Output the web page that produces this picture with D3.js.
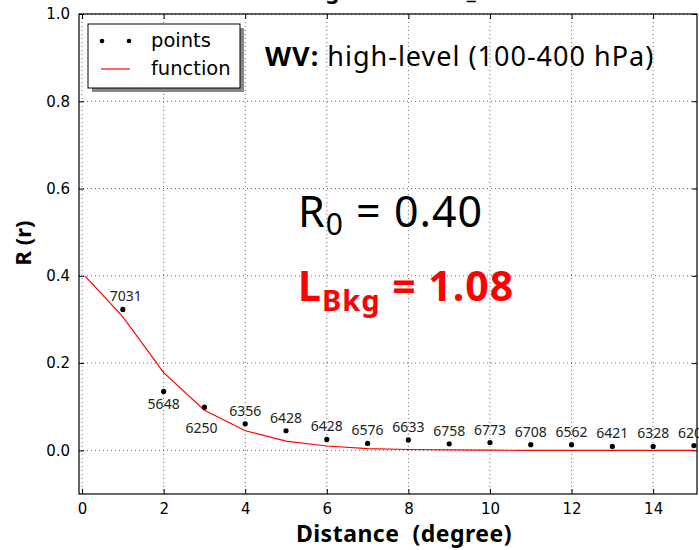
<!DOCTYPE html>
<html>
<head>
<meta charset="utf-8">
<script src="https://cdn.jsdelivr.net/npm/d3@7"></script>
<style>
    body { margin: 0; background: #fff; }
    svg { display: block; }
    text { white-space: pre; }
</style>
</head>
<body>
<div id="chart"></div>
<script>
// observed points (distance in degree, correlation) and sample counts
const distance = [1, 2, 3, 4, 5, 6, 7, 8, 9, 10, 11, 12, 13, 14, 15];
const corr = [0.323, 0.135, 0.099, 0.061, 0.045, 0.025, 0.016, 0.024, 0.015, 0.018, 0.013, 0.013, 0.009, 0.009, 0.011];
const counts = ["7031", "5648", "6250", "6356", "6428", "6428", "6576", "6633", "6758", "6773", "6708", "6562", "6421", "6328", "6205"];

// fitted function
const fitX = [0.07, 1, 2, 3, 4, 5, 6, 7, 8, 9, 10, 11, 12, 13, 14, 15];
const fitY = [0.400, 0.306, 0.178, 0.092, 0.045, 0.021, 0.010, 0.004, 0.002, 0.001, 0.0004, 0.0002, 0.0001, 0, 0, 0];

const xTicks = [0, 2, 4, 6, 8, 10, 12, 14];
const yTicks = [0.0, 0.2, 0.4, 0.6, 0.8, 1.0];

const W = 699, H = 550;
const margin = { top: 14, right: 2, bottom: 56, left: 79 };
const iw = W - margin.left - margin.right;
const ih = H - margin.top - margin.bottom;

const svg = d3.select("#chart").append("svg")
    .attr("width", W)
    .attr("height", H);

const x = d3.scaleLinear().domain([-0.075, 15.075]).range([0, iw]);
const y = d3.scaleLinear().domain([-0.1, 1.0]).range([ih, 0]);

const g = svg.append("g").attr("transform", `translate(${margin.left},${margin.top})`);

svg.append("defs").append("clipPath").attr("id", "clip")
    .append("rect").attr("width", iw).attr("height", ih);

// dotted grid
g.append("g").selectAll("line").data(xTicks).join("line")
    .attr("x1", d => x(d)).attr("x2", d => x(d))
    .attr("y1", 0).attr("y2", ih)
    .attr("stroke", "#000").attr("stroke-width", 0.6).attr("stroke-dasharray", "1,3");
g.append("g").selectAll("line").data(yTicks).join("line")
    .attr("x1", 0).attr("x2", iw)
    .attr("y1", d => y(d)).attr("y2", d => y(d))
    .attr("stroke", "#000").attr("stroke-width", 0.6).attr("stroke-dasharray", "1,3");

// axes (ticks inside, on all four sides like matplotlib classic)
const tickFont = "'DejaVu Sans', sans-serif";
const xAxis = g.append("g").attr("transform", `translate(0,${ih})`)
    .call(d3.axisBottom(x).tickValues(xTicks).tickSizeInner(-5).tickSizeOuter(0).tickPadding(9).tickFormat(d3.format("d")));
const xAxisTop = g.append("g")
    .call(d3.axisTop(x).tickValues(xTicks).tickSizeInner(-5).tickSizeOuter(0).tickFormat(""));
const yAxis = g.append("g")
    .call(d3.axisLeft(y).tickValues(yTicks).tickSizeInner(-5).tickSizeOuter(0).tickPadding(9).tickFormat(d3.format(".1f")));
const yAxisRight = g.append("g").attr("transform", `translate(${iw},0)`)
    .call(d3.axisRight(y).tickValues(yTicks).tickSizeInner(-5).tickSizeOuter(0).tickFormat(""));
[xAxis, xAxisTop, yAxis, yAxisRight].forEach(a => {
    a.select(".domain").remove();
    a.selectAll("line").attr("stroke", "#000");
    a.selectAll("text").attr("font-family", tickFont).attr("font-size", 15).attr("fill", "#000");
});
g.append("rect").attr("width", iw).attr("height", ih)
    .attr("fill", "none").attr("stroke", "#000").attr("stroke-width", 1.2);

// fitted function
const line = d3.line().x((d, i) => x(fitX[i])).y(d => y(d));
g.append("path").datum(fitY)
    .attr("clip-path", "url(#clip)")
    .attr("d", line)
    .attr("fill", "none").attr("stroke", "red").attr("stroke-width", 1.2);

// points
g.append("g").selectAll("circle").data(corr).join("circle")
    .attr("cx", (d, i) => x(distance[i]))
    .attr("cy", d => y(d))
    .attr("r", 2.6)
    .attr("fill", "#000");

// count labels, most above the point, two below
const annFont = "'Noto Sans', 'Open Sans', sans-serif";
g.append("g").selectAll("text").data(counts).join("text")
    .attr("x", (d, i) => x(distance[i]) + (i === 0 ? 3 : i === 2 ? -3 : 0))
    .attr("y", (d, i) => y(corr[i]) + (i === 1 ? 18 : i === 2 ? 26 : -8))
    .attr("text-anchor", "middle")
    .attr("font-family", annFont).attr("font-size", 14).attr("fill", "#222")
    .text(d => d);

// legend
const lg = g.append("g").attr("transform", "translate(9,10)");
lg.append("rect").attr("x", 4).attr("y", 4).attr("width", 152).attr("height", 64).attr("fill", "#888");
lg.append("rect").attr("width", 152).attr("height", 64).attr("fill", "#fff").attr("stroke", "#000").attr("stroke-width", 1);
lg.append("circle").attr("cx", 14).attr("cy", 17).attr("r", 2.3).attr("fill", "#000");
lg.append("circle").attr("cx", 41).attr("cy", 17).attr("r", 2.3).attr("fill", "#000");
lg.append("line").attr("x1", 13).attr("x2", 42).attr("y1", 45).attr("y2", 45).attr("stroke", "red").attr("stroke-width", 1.2);
lg.append("text").attr("x", 63).attr("y", 23).attr("font-family", tickFont).attr("font-size", 19.5).text("points");
lg.append("text").attr("x", 63).attr("y", 51).attr("font-family", tickFont).attr("font-size", 19.5).text("function");

// annotations
const wv = g.append("text").attr("x", 186).attr("y", 52)
    .attr("font-family", annFont).attr("font-size", 27).attr("letter-spacing", 1).attr("fill", "#000");
wv.append("tspan").attr("font-weight", "bold").text("WV:");
wv.append("tspan").text(" high-level (100-400 hPa)");

const r0 = g.append("text").attr("x", 219).attr("y", 213)
    .attr("font-family", annFont).attr("font-size", 43).attr("letter-spacing", 1).attr("fill", "#000");
r0.append("tspan").text("R");
r0.append("tspan").attr("font-size", 30).attr("dy", 8).text("0");
r0.append("tspan").attr("dy", -8).text(" = 0.40");

const lb = g.append("text").attr("x", 219).attr("y", 287)
    .attr("font-family", annFont).attr("font-size", 41).attr("letter-spacing", 1).attr("font-weight", "bold").attr("fill", "red");
lb.append("tspan").text("L");
lb.append("tspan").attr("font-size", 29).attr("dy", 10).text("Bkg");
lb.append("tspan").attr("dy", -10).text(" = 1.08");

// title (mostly above the visible area)
svg.append("text").attr("x", margin.left + iw / 2 + 4).attr("y", -1)
    .attr("text-anchor", "middle")
    .attr("font-family", annFont).attr("font-size", 22).attr("font-weight", "bold")
    .text("Background error_WV");

// axis titles
svg.append("text").attr("x", 404).attr("y", 542)
    .attr("text-anchor", "middle")
    .attr("font-family", annFont).attr("font-size", 23).attr("letter-spacing", 0.5).attr("font-weight", "bold")
    .text("Distance  (degree)");
svg.append("text")
    .attr("transform", "translate(31,243) rotate(-90)")
    .attr("text-anchor", "middle")
    .attr("font-family", annFont).attr("font-size", 22).attr("font-weight", "bold")
    .text("R (r)");
</script>
</body>
</html>
